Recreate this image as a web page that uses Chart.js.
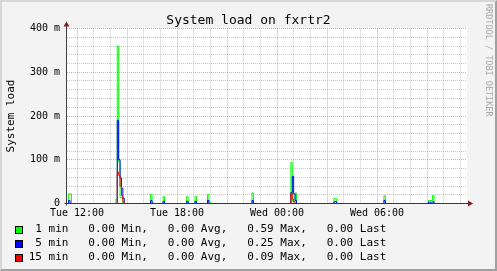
<!DOCTYPE html>
<html>
<head>
<meta charset="utf-8">
<script src="https://cdn.jsdelivr.net/npm/chart.js@4.4.1/dist/chart.umd.min.js"></script>
<style>
html, body { margin: 0; padding: 0; }
body { width: 497px; height: 271px; overflow: hidden; position: relative; background: #f3f3f3; font-family: 'DejaVu Sans Mono', monospace; }
#chart { position: absolute; left: 0; top: 0; }
.frame { position: absolute; left: 0; top: 0; width: 497px; height: 271px; box-sizing: border-box; border-style: solid; border-width: 2px; border-color: #d6d6d6 #a0a0a0 #a0a0a0 #d6d6d6; pointer-events: none; }
.title { position: absolute; left: 0; top: 13px; width: 497px; text-align: center; font-size: 13px; line-height: 13px; color: #000; white-space: pre; }
.mark { position: absolute; left: 484px; top: 4px; font-size: 8.5px; line-height: 8.5px; color: #a8a8a8; writing-mode: vertical-rl; white-space: pre; }
.row { position: absolute; left: 0; width: 497px; height: 14px; }
.box { position: absolute; left: 15px; top: 4px; width: 6px; height: 6px; border: 1px solid #000; }
.txt { position: absolute; left: 28.7px; top: 0; font-size: 11px; line-height: 14px; color: #000; white-space: pre; }
</style>
</head>
<body>
<canvas id="chart" width="497" height="271"></canvas>
<div class="title">System load on fxrtr2</div>
<div class="mark">RRDTOOL / TOBI OETIKER</div>
<div id="legend"></div>
<div class="frame"></div>
<script>
// minutes after Tue 12:00, load values (1.0 = 1000 m)
const oneMinTimes = [-30, -20, 140, 145, 150, 155, 165, 265, 270, 275, 310, 315, 395, 400, 425, 430, 470, 475, 480, 630, 635, 770, 775, 785, 790, 925, 935, 1105, 1110, 1265, 1280, 1285];
const oneMinLoad  = [0.022, 0, 0.010, 0.360, 0.095, 0.013, 0, 0.021, 0.003, 0, 0.016, 0, 0.016, 0, 0.016, 0, 0.021, 0.003, 0, 0.024, 0, 0.094, 0.004, 0.024, 0, 0.011, 0, 0.018, 0, 0.007, 0.019, 0];

const fiveMinTimes = [-30, -25, 145, 150, 155, 160, 165, 170, 265, 270, 310, 315, 395, 400, 425, 430, 470, 475, 630, 635, 770, 775, 780, 785, 790, 925, 935, 1105, 1110, 1265, 1280, 1285];
const fiveMinLoad  = [0.007, 0, 0.190, 0.100, 0.058, 0.035, 0.012, 0, 0.007, 0, 0.005, 0, 0.005, 0, 0.005, 0, 0.007, 0, 0.007, 0, 0.025, 0.062, 0.022, 0.007, 0, 0.004, 0, 0.007, 0, 0.003, 0.004, 0];

const fifteenMinTimes = [145, 150, 155, 160, 165, 170, 770, 775, 780, 785];
const fifteenMinLoad  = [0.072, 0.064, 0.040, 0.018, 0.004, 0, 0.024, 0.010, 0.004, 0];

const seriesNames  = ['1 min', '5 min', '15 min'];
const seriesColors = ['#00ff00', '#0000ff', '#ff0000'];
const minVals  = [0.00, 0.00, 0.00];
const avgVals  = [0.00, 0.00, 0.00];
const maxVals  = [0.59, 0.25, 0.09];
const lastVals = [0.00, 0.00, 0.00];

const xTickLabels = {0: 'Tue 12:00', 360: 'Tue 18:00', 720: 'Wed 00:00', 1080: 'Wed 06:00'};
const yTickLabels = {0: '0', 100: '100 m', 200: '200 m', 300: '300 m', 400: '400 m'};

const X_MIN = -36, X_MAX = 1404;

function toPoints(times, vals) {
  const pts = [{x: X_MIN, y: 0}];
  times.forEach((t, i) => pts.push({x: t, y: vals[i]}));
  pts.push({x: X_MAX, y: 0});
  return pts;
}

//------------------legend---------------//
const legend = document.getElementById('legend');
seriesNames.forEach((name, i) => {
  const row = document.createElement('div');
  row.className = 'row';
  row.style.top = (222 + i * 14) + 'px';
  const line = name.padStart(6) + '   ' + minVals[i].toFixed(2) + ' Min,   ' + avgVals[i].toFixed(2) + ' Avg,   ' +
               maxVals[i].toFixed(2) + ' Max,   ' + lastVals[i].toFixed(2) + ' Last';
  row.innerHTML = `<div class="box" style="background:${seriesColors[i]}"></div><div class="txt">${line}</div>`;
  legend.appendChild(row);
});

//------------------plot background + axes---------------//
const plotDecor = {
  id: 'plotDecor',
  beforeDraw(chart) {
    const {ctx, chartArea: a} = chart;
    ctx.save();
    ctx.fillStyle = '#ffffff';
    ctx.fillRect(a.left, a.top - 0.5, a.right - a.left, a.bottom - a.top + 0.5);
    ctx.restore();
  },
  afterDatasetsDraw(chart) {
    const {ctx, chartArea: a} = chart;
    const ax = Math.round(a.left) - 0.5;
    const ay = a.bottom;
    ctx.save();
    ctx.lineWidth = 1;
    ctx.strokeStyle = '#404040';
    ctx.beginPath();
    ctx.moveTo(ax, ay + 2);
    ctx.lineTo(ax, a.top - 5);
    ctx.stroke();
    ctx.strokeStyle = '#7a1c1c';
    ctx.beginPath();
    ctx.moveTo(ax - 2, ay);
    ctx.lineTo(a.right + 3, ay);
    ctx.stroke();
    ctx.fillStyle = '#7f1f1f';
    ctx.beginPath();
    ctx.moveTo(ax, a.top - 7);
    ctx.lineTo(ax - 3, a.top - 2);
    ctx.lineTo(ax + 3, a.top - 2);
    ctx.closePath();
    ctx.fill();
    ctx.beginPath();
    ctx.moveTo(a.right + 6, ay);
    ctx.lineTo(a.right + 1, ay - 3);
    ctx.lineTo(a.right + 1, ay + 3);
    ctx.closePath();
    ctx.fill();
    ctx.restore();
  }
};

const minorGrid = 'rgba(190,190,190,0.85)';
const majorGrid = 'rgba(240,130,130,0.75)';

new Chart(document.getElementById('chart'), {
  type: 'line',
  data: {
    datasets: [
      {label: seriesNames[0], data: toPoints(oneMinTimes, oneMinLoad), borderColor: seriesColors[0], order: 3},
      {label: seriesNames[1], data: toPoints(fiveMinTimes, fiveMinLoad), borderColor: seriesColors[1], order: 2},
      {label: seriesNames[2], data: toPoints(fifteenMinTimes, fifteenMinLoad), borderColor: seriesColors[2], order: 1}
    ]
  },
  options: {
    responsive: false,
    animation: false,
    devicePixelRatio: 1,
    layout: {padding: {left: 0, right: 30, top: 28.5, bottom: 47.5}},
    elements: {
      line: {borderWidth: 1, stepped: 'before', fill: false, tension: 0},
      point: {radius: 0, hoverRadius: 0}
    },
    plugins: {legend: {display: false}, tooltip: {enabled: false}, title: {display: false}},
    scales: {
      x: {
        type: 'linear',
        min: X_MIN,
        max: X_MAX,
        afterBuildTicks(axis) {
          const t = [];
          for (let m = 0; m < X_MAX; m += 60) t.push({value: m});
          axis.ticks = t;
        },
        afterFit(scale) { scale.height = 20; },
        ticks: {
          autoSkip: false, maxRotation: 0, padding: 3.5, color: '#000',
          font: {family: 'DejaVu Sans Mono', size: 10},
          callback: (v) => xTickLabels[v] || ''
        },
        grid: {
          drawTicks: false,
          lineWidth: 1,
          color: (c) => (c.tick && c.tick.value % 180 === 0) ? majorGrid : minorGrid
        },
        border: {display: false, dash: [1, 1]}
      },
      y: {
        type: 'linear',
        min: 0,
        max: 0.4,
        afterBuildTicks(axis) {
          const t = [];
          for (let i = 0; i <= 20; i++) t.push({value: i * 20 / 1000});
          axis.ticks = t;
        },
        afterFit(scale) { scale.width = 67; },
        ticks: {
          autoSkip: false, padding: 7, color: '#000',
          font: {family: 'DejaVu Sans Mono', size: 10},
          callback: (v) => { const k = Math.round(v * 1000); return k in yTickLabels ? yTickLabels[k] : ''; }
        },
        grid: {
          drawTicks: false,
          lineWidth: 1,
          color: (c) => {
            if (!c.tick) return minorGrid;
            const k = Math.round(c.tick.value * 1000);
            if (k === 0) return 'rgba(0,0,0,0)';
            return k % 100 === 0 ? majorGrid : minorGrid;
          }
        },
        border: {display: false, dash: [1, 1]},
        title: {
          display: true, text: 'System load', color: '#000',
          font: {family: 'DejaVu Sans Mono', size: 11},
          padding: {top: 5, bottom: 0}
        }
      }
    }
  },
  plugins: [plotDecor]
});
</script>
</body>
</html>
